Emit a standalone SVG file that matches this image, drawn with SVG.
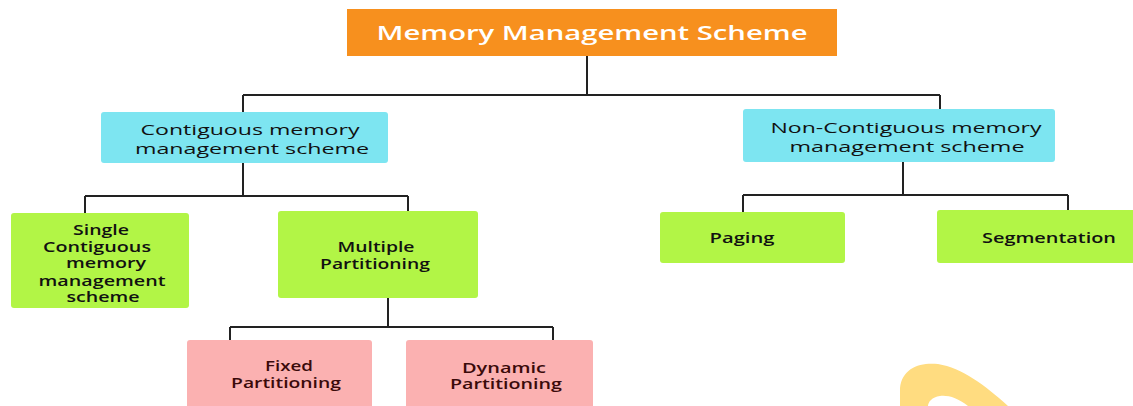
<svg xmlns="http://www.w3.org/2000/svg" width="1133" height="406" viewBox="0 0 1133 406">
<style>
.t{font-family:"Open Sans","Noto Sans","Liberation Sans",sans-serif;text-anchor:middle;font-weight:600}
.m{font-weight:500;font-size:14.5px;fill:#111}
.s{font-size:13.5px;fill:#111}
.p{font-size:13.5px;fill:#3a0a0a}
.root{fill:#f7901e}
.cyan{fill:#7de5f1}
.green{fill:#b2f546}
.pink{fill:#fbb1b1}
.ln{stroke:#222;stroke-width:2;fill:none}
</style>
<rect width="1133" height="406" fill="#fff"/>
<path d="M900,406 L900,388 C902,368 920,362 938,364 C962,368 985,385 1008,406 L968,406 C958,398 948,395 940,396 C932,397 928,402 928,406 Z" fill="#ffdc80"/>
<g id="connectors" class="ln">
<path d="M587,56 V95 M243,95 H940 M243,95 V112 M940,95 V110"/>
<path d="M243,163 V196 M85,196 H408 M85,196 V213 M408,196 V211"/>
<path d="M388,298 V327 M230,327 H553 M230,327 V341 M553,327 V341"/>
<path d="M903,162 V195 M743,195 H1068 M743,195 V212 M1068,195 V210"/>
</g>
<g id="root">
<rect class="root" x="347" y="9" width="490" height="47"/>
<text class="t" x="592" y="40" font-size="20" fill="#fff" font-weight="500" textLength="431" lengthAdjust="spacingAndGlyphs">Memory Management Scheme</text>
</g>
<g id="contiguous">
<rect class="cyan" x="101" y="112" width="287" height="51" rx="3"/>
<text class="t m" x="250" y="135" textLength="219" lengthAdjust="spacingAndGlyphs">Contiguous memory</text>
<text class="t m" x="252" y="154" textLength="234" lengthAdjust="spacingAndGlyphs">management scheme</text>
</g>
<g id="noncontiguous">
<rect class="cyan" x="743" y="109" width="312" height="53" rx="3"/>
<text class="t m" x="906" y="133" textLength="271" lengthAdjust="spacingAndGlyphs">Non-Contiguous memory</text>
<text class="t m" x="907" y="152" textLength="235" lengthAdjust="spacingAndGlyphs">management scheme</text>
</g>
<g id="single">
<rect class="green" x="11" y="213" width="178" height="95" rx="3"/>
<text class="t s" x="101" y="235" textLength="56" lengthAdjust="spacingAndGlyphs">Single</text>
<text class="t s" x="97" y="252" textLength="108" lengthAdjust="spacingAndGlyphs">Contiguous</text>
<text class="t s" x="106" y="268" textLength="80" lengthAdjust="spacingAndGlyphs">memory</text>
<text class="t s" x="102" y="286" textLength="127" lengthAdjust="spacingAndGlyphs">management</text>
<text class="t s" x="103" y="302" textLength="73" lengthAdjust="spacingAndGlyphs">scheme</text>
</g>
<g id="multiple">
<rect class="green" x="278" y="211" width="200" height="87" rx="3"/>
<text class="t s" x="376" y="252" textLength="77" lengthAdjust="spacingAndGlyphs">Multiple</text>
<text class="t s" x="375" y="269" textLength="110" lengthAdjust="spacingAndGlyphs">Partitioning</text>
</g>
<g id="fixed">
<rect class="pink" x="187" y="340" width="185" height="70" rx="3"/>
<text class="t p" x="289" y="371" textLength="48" lengthAdjust="spacingAndGlyphs">Fixed</text>
<text class="t p" x="286" y="388" textLength="110" lengthAdjust="spacingAndGlyphs">Partitioning</text>
</g>
<g id="dynamic">
<rect class="pink" x="406" y="340" width="187" height="70" rx="3"/>
<text class="t p" x="504" y="373" textLength="84" lengthAdjust="spacingAndGlyphs">Dynamic</text>
<text class="t p" x="506" y="389" textLength="112" lengthAdjust="spacingAndGlyphs">Partitioning</text>
</g>
<g id="paging">
<rect class="green" x="660" y="212" width="185" height="51" rx="3"/>
<text class="t s" x="742" y="243" textLength="65" lengthAdjust="spacingAndGlyphs">Paging</text>
</g>
<g id="segmentation">
<rect class="green" x="937" y="210" width="200" height="53" rx="3"/>
<text class="t s" x="1049" y="243" textLength="134" lengthAdjust="spacingAndGlyphs">Segmentation</text>
</g>
</svg>
